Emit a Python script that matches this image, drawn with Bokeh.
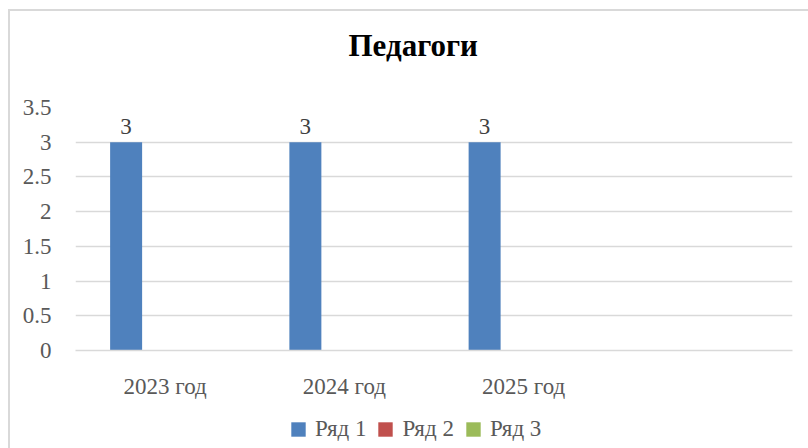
from bokeh.plotting import figure
from bokeh.layouts import column
from bokeh.models import (FactorRange, Range1d, FixedTicker, NumeralTickFormatter,
                          Legend, LegendItem, ColumnDataSource, Title)
from bokeh.transform import dodge
from bokeh.embed import file_html
from bokeh.resources import INLINE
from bokeh.core.properties import value

# ---- data ----
chart_title = "Педагоги"
categories = ["2023 год", "2024 год", "2025 год"]
empty_slot = [""]
series_names = ["Ряд 1", "Ряд 2", "Ряд 3"]
series1 = [3, 3, 3]
series2 = [0, 0, 0]
series3 = [0, 0, 0]
y_ticks = [0, 0.5, 1, 1.5, 2, 2.5, 3, 3.5]

# ---- style ----
colors = ["#4F81BD", "#C0504D", "#9BBB59"]
FONT = "Liberation Serif"
TEXT = "#595959"
GRID = "#d9d9d9"
offsets = [-0.2176, 0.0, 0.2176]
bar_w = 0.1785

src = ColumnDataSource(dict(cat=categories, s1=series1, s2=series2, s3=series3,
                            lab=[str(v) for v in series1]))

p = figure(x_range=FactorRange(*(categories + empty_slot)), y_range=Range1d(0, 3.5),
           width=798, height=400, output_backend="svg", toolbar_location=None,
           min_border_left=65, min_border_right=16, min_border_top=96, min_border_bottom=61)

for key, off, col in zip(["s1", "s2", "s3"], offsets, colors):
    p.vbar(x=dodge("cat", off, range=p.x_range), top=key, width=bar_w, source=src,
           fill_color=col, line_color=None)

p.text(x=dodge("cat", offsets[0], range=p.x_range), y="s1", text="lab", source=src,
       text_align="center", text_baseline="bottom", y_offset=-8,
       text_font=value(FONT), text_font_size="23px", text_color="#404040")

# blank spacer between the title and the plot area
p.add_layout(Title(text=" ", text_font_size="1px", standoff=37), "above")

p.title.text = chart_title
p.title.text_font = FONT
p.title.text_font_size = "31px"
p.title.text_font_style = "bold"
p.title.text_color = "black"
p.title.align = "left"
p.title.offset = 273
p.title.standoff = 10

p.xaxis.axis_line_color = GRID
p.xaxis.axis_line_width = 1.5
p.xaxis.major_tick_line_color = None
p.xaxis.minor_tick_line_color = None
p.xaxis.major_label_standoff = 17
p.xaxis.major_label_text_font = FONT
p.xaxis.major_label_text_font_size = "23px"
p.xaxis.major_label_text_color = TEXT

p.yaxis.axis_line_color = None
p.yaxis.major_tick_line_color = None
p.yaxis.minor_tick_line_color = None
p.yaxis.ticker = FixedTicker(ticks=y_ticks)
p.yaxis.formatter = NumeralTickFormatter(format="0.[0]")
p.yaxis.major_label_standoff = 18
p.yaxis.major_label_text_font = FONT
p.yaxis.major_label_text_font_size = "23px"
p.yaxis.major_label_text_color = TEXT

p.xgrid.grid_line_color = None
p.ygrid.grid_line_color = GRID
p.ygrid.grid_line_width = 1.5
p.outline_line_color = None

# legend strip below the chart (zero-height proxy bars carry the legend colours)
leg = figure(width=798, height=37, output_backend="svg", toolbar_location=None,
             x_range=Range1d(0, 1), y_range=Range1d(0, 1),
             x_axis_type=None, y_axis_type=None, min_border=0)
leg.grid.visible = False
leg.outline_line_color = None
leg_renderers = [leg.vbar(x=[-1], top=[0], width=0.1, fill_color=c, line_color=None)
                 for c in colors]
legend = Legend(items=[LegendItem(label=n, renderers=[r]) for n, r in zip(series_names, leg_renderers)],
                orientation="horizontal", location=(214, 6),
                glyph_width=18, glyph_height=18, label_standoff=8, spacing=10,
                padding=0, margin=0, border_line_color=None, background_fill_alpha=0,
                label_text_font=FONT, label_text_font_size="23px", label_text_color=TEXT)
leg.add_layout(legend, "center")

layout = column(p, leg, spacing=0,
                styles={"border-left": "2px solid #d9d9d9", "border-top": "2px solid #d9d9d9",
                        "position": "relative", "left": "8px", "top": "9px"})

open("out.html", "w").write(file_html(layout, INLINE))
